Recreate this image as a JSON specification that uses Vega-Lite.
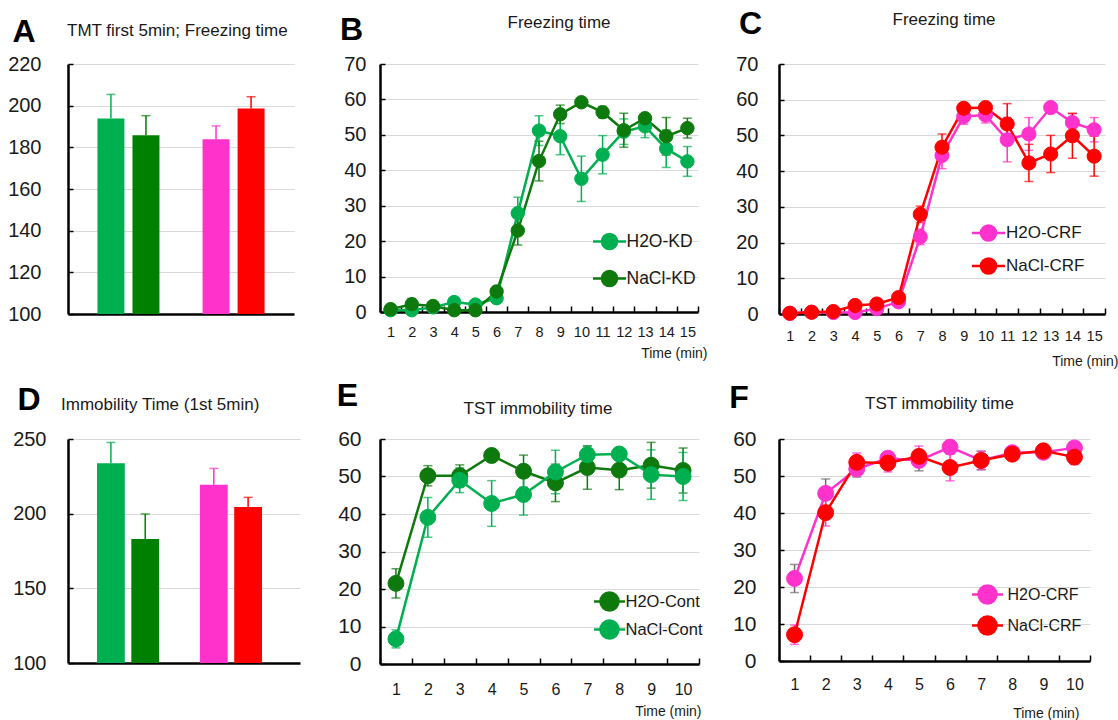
{
"$schema": "https://vega.github.io/schema/vega-lite/v6.json",
"background": "white",
"padding": {"left": 7, "top": 7, "right": 5, "bottom": 5},
"config": {
  "font": "Liberation Sans",
  "view": {"stroke": null},
  "title": {"font": "Liberation Sans", "fontSize": 17, "fontWeight": "normal", "color": "#1a1a1a"},
  "axis": {"labelFont": "Liberation Sans", "labelColor": "#1a1a1a", "domainColor": "#000000", "domainWidth": 2.5, "tickColor": "#000000", "tickWidth": 1.5, "gridColor": "#d9d9d9", "gridWidth": 1, "titleFont": "Liberation Sans", "titleColor": "#1a1a1a", "titleFontWeight": "normal"},
  "axisX": {"grid": false, "labelAngle": 0},
  "legend": {"labelFont": "Liberation Sans", "labelColor": "#1a1a1a"}
},
"datasets": {
  "A": [
    {"g": "H2O-KD", "v": 193.8, "u": 205.4},
    {"g": "NaCl-KD", "v": 185.8, "u": 195.2},
    {"g": "H2O-CRF", "v": 183.9, "u": 190.3},
    {"g": "NaCl-CRF", "v": 198.6, "u": 204.3}
  ],
  "D": [
    {"g": "H2O-KD", "v": 233.7, "u": 247.7},
    {"g": "NaCl-KD", "v": 183.0, "u": 199.8},
    {"g": "H2O-CRF", "v": 219.4, "u": 230.3},
    {"g": "NaCl-CRF", "v": 204.5, "u": 210.9}
  ],
  "B": [
    {"t": 1, "s": "H2O-KD", "m": 0.5, "e": 0.5},
    {"t": 2, "s": "H2O-KD", "m": 0.5, "e": 0.7},
    {"t": 3, "s": "H2O-KD", "m": 1.3, "e": 0.6},
    {"t": 4, "s": "H2O-KD", "m": 2.8, "e": 1.0},
    {"t": 5, "s": "H2O-KD", "m": 2.1, "e": 0.8},
    {"t": 6, "s": "H2O-KD", "m": 3.9, "e": 1.0},
    {"t": 7, "s": "H2O-KD", "m": 27.9, "e": 4.5},
    {"t": 8, "s": "H2O-KD", "m": 51.2, "e": 4.2},
    {"t": 9, "s": "H2O-KD", "m": 49.6, "e": 5.2},
    {"t": 10, "s": "H2O-KD", "m": 37.6, "e": 6.4},
    {"t": 11, "s": "H2O-KD", "m": 44.4, "e": 5.4},
    {"t": 12, "s": "H2O-KD", "m": 50.9, "e": 3.6},
    {"t": 13, "s": "H2O-KD", "m": 52.4, "e": 3.2},
    {"t": 14, "s": "H2O-KD", "m": 46.1, "e": 5.3},
    {"t": 15, "s": "H2O-KD", "m": 42.5, "e": 4.2},
    {"t": 1, "s": "NaCl-KD", "m": 0.8, "e": 0.4},
    {"t": 2, "s": "NaCl-KD", "m": 2.2, "e": 1.6},
    {"t": 3, "s": "NaCl-KD", "m": 1.7, "e": 0.6},
    {"t": 4, "s": "NaCl-KD", "m": 0.5, "e": 0.4},
    {"t": 5, "s": "NaCl-KD", "m": 0.5, "e": 0.4},
    {"t": 6, "s": "NaCl-KD", "m": 5.8, "e": 1.2},
    {"t": 7, "s": "NaCl-KD", "m": 23.0, "e": 4.1},
    {"t": 8, "s": "NaCl-KD", "m": 42.6, "e": 5.6},
    {"t": 9, "s": "NaCl-KD", "m": 55.8, "e": 2.6},
    {"t": 10, "s": "NaCl-KD", "m": 59.2, "e": 0.8},
    {"t": 11, "s": "NaCl-KD", "m": 56.4, "e": 1.6},
    {"t": 12, "s": "NaCl-KD", "m": 51.3, "e": 4.8},
    {"t": 13, "s": "NaCl-KD", "m": 54.7, "e": 1.2},
    {"t": 14, "s": "NaCl-KD", "m": 49.6, "e": 5.3},
    {"t": 15, "s": "NaCl-KD", "m": 51.9, "e": 2.8}
  ],
  "C": [
    {"t": 1, "s": "H2O-CRF", "m": 0.2, "e": 0.3},
    {"t": 2, "s": "H2O-CRF", "m": 0.5, "e": 0.3},
    {"t": 3, "s": "H2O-CRF", "m": 0.4, "e": 0.3},
    {"t": 4, "s": "H2O-CRF", "m": 0.4, "e": 0.4},
    {"t": 5, "s": "H2O-CRF", "m": 1.5, "e": 0.6},
    {"t": 6, "s": "H2O-CRF", "m": 3.4, "e": 0.8},
    {"t": 7, "s": "H2O-CRF", "m": 21.6, "e": 2.2},
    {"t": 8, "s": "H2O-CRF", "m": 44.4, "e": 3.7},
    {"t": 9, "s": "H2O-CRF", "m": 55.3, "e": 2.2},
    {"t": 10, "s": "H2O-CRF", "m": 55.7, "e": 2.2},
    {"t": 11, "s": "H2O-CRF", "m": 48.8, "e": 6.2},
    {"t": 12, "s": "H2O-CRF", "m": 50.4, "e": 4.6},
    {"t": 13, "s": "H2O-CRF", "m": 57.8, "e": 1.0},
    {"t": 14, "s": "H2O-CRF", "m": 53.6, "e": 2.5},
    {"t": 15, "s": "H2O-CRF", "m": 51.6, "e": 3.4},
    {"t": 1, "s": "NaCl-CRF", "m": 0.2, "e": 0.3},
    {"t": 2, "s": "NaCl-CRF", "m": 0.5, "e": 0.3},
    {"t": 3, "s": "NaCl-CRF", "m": 0.7, "e": 0.4},
    {"t": 4, "s": "NaCl-CRF", "m": 2.4, "e": 0.6},
    {"t": 5, "s": "NaCl-CRF", "m": 2.8, "e": 0.7},
    {"t": 6, "s": "NaCl-CRF", "m": 4.6, "e": 1.0},
    {"t": 7, "s": "NaCl-CRF", "m": 27.9, "e": 2.3},
    {"t": 8, "s": "NaCl-CRF", "m": 46.7, "e": 3.7},
    {"t": 9, "s": "NaCl-CRF", "m": 57.6, "e": 1.0},
    {"t": 10, "s": "NaCl-CRF", "m": 57.8, "e": 1.0},
    {"t": 11, "s": "NaCl-CRF", "m": 53.2, "e": 5.7},
    {"t": 12, "s": "NaCl-CRF", "m": 42.3, "e": 5.2},
    {"t": 13, "s": "NaCl-CRF", "m": 44.8, "e": 5.2},
    {"t": 14, "s": "NaCl-CRF", "m": 49.9, "e": 6.3},
    {"t": 15, "s": "NaCl-CRF", "m": 44.2, "e": 5.6}
  ],
  "E": [
    {"t": 1, "s": "H2O-Cont", "m": 21.5, "e": 3.9},
    {"t": 2, "s": "H2O-Cont", "m": 50.2, "e": 2.7},
    {"t": 3, "s": "H2O-Cont", "m": 50.2, "e": 2.9},
    {"t": 4, "s": "H2O-Cont", "m": 55.6, "e": 1.0},
    {"t": 5, "s": "H2O-Cont", "m": 51.4, "e": 4.3},
    {"t": 6, "s": "H2O-Cont", "m": 48.3, "e": 5.0},
    {"t": 7, "s": "H2O-Cont", "m": 52.4, "e": 5.8},
    {"t": 8, "s": "H2O-Cont", "m": 51.7, "e": 5.2},
    {"t": 9, "s": "H2O-Cont", "m": 53.0, "e": 6.1},
    {"t": 10, "s": "H2O-Cont", "m": 51.6, "e": 6.0},
    {"t": 1, "s": "NaCl-Cont", "m": 6.7, "e": 2.4},
    {"t": 2, "s": "NaCl-Cont", "m": 39.1, "e": 5.3},
    {"t": 3, "s": "NaCl-Cont", "m": 49.0, "e": 3.3},
    {"t": 4, "s": "NaCl-Cont", "m": 42.8, "e": 6.1},
    {"t": 5, "s": "NaCl-Cont", "m": 45.2, "e": 5.5},
    {"t": 6, "s": "NaCl-Cont", "m": 51.2, "e": 5.8},
    {"t": 7, "s": "NaCl-Cont", "m": 55.8, "e": 2.2},
    {"t": 8, "s": "NaCl-Cont", "m": 56.0, "e": 1.0},
    {"t": 9, "s": "NaCl-Cont", "m": 50.5, "e": 6.6},
    {"t": 10, "s": "NaCl-Cont", "m": 50.0, "e": 6.4}
  ],
  "F": [
    {"t": 1, "s": "H2O-CRF", "m": 22.3, "e": 3.8},
    {"t": 2, "s": "H2O-CRF", "m": 45.3, "e": 3.9},
    {"t": 3, "s": "H2O-CRF", "m": 51.9, "e": 2.2},
    {"t": 4, "s": "H2O-CRF", "m": 54.8, "e": 1.6},
    {"t": 5, "s": "H2O-CRF", "m": 54.2, "e": 2.8},
    {"t": 6, "s": "H2O-CRF", "m": 57.8, "e": 1.0},
    {"t": 7, "s": "H2O-CRF", "m": 54.2, "e": 2.5},
    {"t": 8, "s": "H2O-CRF", "m": 56.3, "e": 1.5},
    {"t": 9, "s": "H2O-CRF", "m": 56.4, "e": 1.0},
    {"t": 10, "s": "H2O-CRF", "m": 57.6, "e": 1.0},
    {"t": 1, "s": "NaCl-CRF", "m": 7.1, "e": 2.6},
    {"t": 2, "s": "NaCl-CRF", "m": 40.1, "e": 3.6},
    {"t": 3, "s": "NaCl-CRF", "m": 53.7, "e": 2.5},
    {"t": 4, "s": "NaCl-CRF", "m": 53.5, "e": 2.4},
    {"t": 5, "s": "NaCl-CRF", "m": 55.3, "e": 2.8},
    {"t": 6, "s": "NaCl-CRF", "m": 52.3, "e": 3.6},
    {"t": 7, "s": "NaCl-CRF", "m": 54.2, "e": 2.5},
    {"t": 8, "s": "NaCl-CRF", "m": 55.9, "e": 1.5},
    {"t": 9, "s": "NaCl-CRF", "m": 56.8, "e": 1.0},
    {"t": 10, "s": "NaCl-CRF", "m": 55.1, "e": 2.0}
  ]
},
"columns": 3,
"align": "none",
"bounds": "flush",
"spacing": {"row": 125, "column": 80},
"resolve": {
  "scale": {"color": "independent", "fill": "independent", "stroke": "independent"},
  "legend": {"color": "independent", "fill": "independent", "stroke": "independent"}
},
"concat": [
  {
    "width": 226, "height": 250,
    "data": {"name": "A"},
    "title": {"text": "TMT first 5min; Freezing time", "anchor": "start", "frame": "group", "dx": -1, "offset": -38, "baseline": "alphabetic"},
    "encoding": {
      "x": {"field": "g", "type": "nominal", "scale": {"domain": ["H2O-KD", "NaCl-KD", "gap", "H2O-CRF", "NaCl-CRF"], "paddingInner": 0.23, "paddingOuter": 0.84}, "axis": {"title": null, "labels": false, "ticks": false}},
      "color": {"field": "g", "type": "nominal", "scale": {"domain": ["H2O-KD", "NaCl-KD", "H2O-CRF", "NaCl-CRF"], "range": ["#00B050", "#008000", "#FF33CC", "#FF0000"]}, "legend": null}
    },
    "layer": [
      {"mark": {"type": "rule", "strokeWidth": 1.5},
       "encoding": {
         "y": {"field": "v", "type": "quantitative", "scale": {"domain": [100, 220], "nice": false, "zero": false},
               "axis": {"values": [100, 120, 140, 160, 180, 200, 220], "grid": true, "labelFontSize": 20, "labelPadding": 32, "tickSize": -5,
                        "title": "A", "titleAngle": 0, "titleX": -44.5, "titleY": -23, "titleAlign": "center", "titleBaseline": "alphabetic", "titleFontSize": 32, "titleFontWeight": "bold", "titleColor": "#000000"}},
         "y2": {"field": "u"}}},
      {"mark": {"type": "tick", "size": 9, "thickness": 1.5},
       "encoding": {"y": {"field": "u", "type": "quantitative"}}},
      {"mark": {"type": "bar"},
       "encoding": {"y": {"field": "v", "type": "quantitative"}, "y2": {"datum": 100}}}
    ]
  },
  {
    "width": 318, "height": 248,
    "data": {"name": "B"},
    "title": {"text": "Freezing time", "anchor": "middle", "frame": "group", "dx": 20, "offset": -32, "baseline": "alphabetic"},
    "resolve": {"scale": {"color": "independent"}},
    "encoding": {
      "x": {"field": "t", "type": "ordinal", "scale": {"type": "band", "domain": [1, 2, 3, 4, 5, 6, 7, 8, 9, 10, 11, 12, 13, 14, 15], "paddingInner": 0, "paddingOuter": 0},
            "axis": {"title": "Time (min)", "titleX": 327, "titleY": 45, "titleAlign": "right", "titleBaseline": "alphabetic", "titleFontSize": 14, "labelFontSize": 14.5, "labelPadding": 19, "tickSize": -6, "tickBand": "extent"}},
      "y": {"field": "m", "type": "quantitative", "scale": {"domain": [0, 70], "nice": false},
            "axis": {"values": [0, 10, 20, 30, 40, 50, 60, 70], "grid": true, "labelFontSize": 20, "labelPadding": 19, "tickSize": -5,
                     "title": "B", "titleAngle": 0, "titleX": -29, "titleY": -25, "titleAlign": "center", "titleBaseline": "alphabetic", "titleFontSize": 32, "titleFontWeight": "bold", "titleColor": "#000000"}}
    },
    "layer": [
      {"mark": {"type": "errorbar", "ticks": true, "size": 9, "thickness": 1.5},
       "encoding": {"yError": {"field": "e"}, "color": {"field": "s", "type": "nominal", "scale": {"domain": ["H2O-KD", "NaCl-KD"], "range": ["#00B050", "#0E7A0E"]}, "legend": null}}},
      {"mark": {"type": "line", "strokeWidth": 2.5},
       "encoding": {"color": {"field": "s", "type": "nominal", "scale": {"domain": ["H2O-KD", "NaCl-KD"], "range": ["#00B050", "#0E7A0E"]}, "legend": null}}},
      {"mark": {"type": "point", "filled": true, "size": 180, "opacity": 1, "strokeWidth": 1},
       "encoding": {
         "fill": {"field": "s", "type": "nominal", "scale": {"domain": ["H2O-KD", "NaCl-KD"], "range": ["#00B050", "#0E7A0E"]},
                  "legend": {"orient": "none", "legendX": 220, "legendY": 168, "title": null, "symbolType": "M -2.06 0 L 2.06 0 M 0.94 0 A 0.94 0.94 0 1 1 -0.94 0 A 0.94 0.94 0 1 1 0.94 0 Z", "symbolSize": 256, "symbolStrokeWidth": 2.5, "labelFontSize": 17.5, "labelOffset": 7.5, "rowPadding": 10, "padding": 0}},
         "stroke": {"field": "s", "type": "nominal", "scale": {"domain": ["H2O-KD", "NaCl-KD"], "range": ["#00B050", "#0E7A0E"]},
                  "legend": {"orient": "none", "legendX": 220, "legendY": 168, "title": null, "symbolType": "M -2.06 0 L 2.06 0 M 0.94 0 A 0.94 0.94 0 1 1 -0.94 0 A 0.94 0.94 0 1 1 0.94 0 Z", "symbolSize": 256, "symbolStrokeWidth": 2.5, "labelFontSize": 17.5, "labelOffset": 7.5, "rowPadding": 10, "padding": 0}}
       }}
    ]
  },
  {
    "width": 326, "height": 250,
    "data": {"name": "C"},
    "title": {"text": "Freezing time", "anchor": "middle", "frame": "group", "dx": 2, "offset": -35, "baseline": "alphabetic"},
    "resolve": {"scale": {"color": "independent"}},
    "encoding": {
      "x": {"field": "t", "type": "ordinal", "scale": {"type": "band", "domain": [1, 2, 3, 4, 5, 6, 7, 8, 9, 10, 11, 12, 13, 14, 15], "paddingInner": 0, "paddingOuter": 0},
            "axis": {"title": "Time (min)", "titleX": 339, "titleY": 51, "titleAlign": "right", "titleBaseline": "alphabetic", "titleFontSize": 14, "labelFontSize": 14.5, "labelPadding": 21, "tickSize": -6, "tickBand": "extent"}},
      "y": {"field": "m", "type": "quantitative", "scale": {"domain": [0, 70], "nice": false},
            "axis": {"values": [0, 10, 20, 30, 40, 50, 60, 70], "grid": true, "labelFontSize": 20, "labelPadding": 26, "tickSize": -5,
                     "title": "C", "titleAngle": 0, "titleX": -29, "titleY": -31, "titleAlign": "center", "titleBaseline": "alphabetic", "titleFontSize": 32, "titleFontWeight": "bold", "titleColor": "#000000"}}
    },
    "layer": [
      {"mark": {"type": "errorbar", "ticks": true, "size": 9, "thickness": 1.5},
       "encoding": {"yError": {"field": "e"}, "color": {"field": "s", "type": "nominal", "scale": {"domain": ["H2O-CRF", "NaCl-CRF"], "range": ["#FF33CC", "#FF0000"]}, "legend": null}}},
      {"mark": {"type": "line", "strokeWidth": 2.5},
       "encoding": {"color": {"field": "s", "type": "nominal", "scale": {"domain": ["H2O-CRF", "NaCl-CRF"], "range": ["#FF33CC", "#FF0000"]}, "legend": null}}},
      {"mark": {"type": "point", "filled": true, "size": 200, "opacity": 1, "strokeWidth": 1},
       "encoding": {
         "fill": {"field": "s", "type": "nominal", "scale": {"domain": ["H2O-CRF", "NaCl-CRF"], "range": ["#FF33CC", "#FF0000"]},
                  "legend": {"orient": "none", "legendX": 200, "legendY": 159.5, "title": null, "symbolType": "M -2.06 0 L 2.06 0 M 0.94 0 A 0.94 0.94 0 1 1 -0.94 0 A 0.94 0.94 0 1 1 0.94 0 Z", "symbolSize": 256, "symbolStrokeWidth": 2.5, "labelFontSize": 17, "labelOffset": 8, "rowPadding": 6, "padding": 0}},
         "stroke": {"field": "s", "type": "nominal", "scale": {"domain": ["H2O-CRF", "NaCl-CRF"], "range": ["#FF33CC", "#FF0000"]},
                  "legend": {"orient": "none", "legendX": 200, "legendY": 159.5, "title": null, "symbolType": "M -2.06 0 L 2.06 0 M 0.94 0 A 0.94 0.94 0 1 1 -0.94 0 A 0.94 0.94 0 1 1 0.94 0 Z", "symbolSize": 256, "symbolStrokeWidth": 2.5, "labelFontSize": 17, "labelOffset": 8, "rowPadding": 6, "padding": 0}}
       }}
    ]
  },
  {
    "width": 232, "height": 224,
    "data": {"name": "D"},
    "title": {"text": "Immobility Time (1st 5min)", "anchor": "start", "frame": "group", "dx": -7, "offset": -44, "baseline": "alphabetic"},
    "encoding": {
      "x": {"field": "g", "type": "nominal", "scale": {"domain": ["H2O-KD", "NaCl-KD", "gap", "H2O-CRF", "NaCl-CRF"], "paddingInner": 0.19, "paddingOuter": 0.977, "align": 0.433}, "axis": {"title": null, "labels": false, "ticks": false}},
      "color": {"field": "g", "type": "nominal", "scale": {"domain": ["H2O-KD", "NaCl-KD", "H2O-CRF", "NaCl-CRF"], "range": ["#00B050", "#008000", "#FF33CC", "#FF0000"]}, "legend": null}
    },
    "layer": [
      {"mark": {"type": "rule", "strokeWidth": 1.5},
       "encoding": {
         "y": {"field": "v", "type": "quantitative", "scale": {"domain": [100, 250], "nice": false, "zero": false},
               "axis": {"values": [100, 150, 200, 250], "grid": true, "labelFontSize": 20, "labelPadding": 27, "tickSize": -5,
                        "title": "D", "titleAngle": 0, "titleX": -39.5, "titleY": -30, "titleAlign": "center", "titleBaseline": "alphabetic", "titleFontSize": 32, "titleFontWeight": "bold", "titleColor": "#000000"}},
         "y2": {"field": "u"}}},
      {"mark": {"type": "tick", "size": 9, "thickness": 1.5},
       "encoding": {"y": {"field": "u", "type": "quantitative"}}},
      {"mark": {"type": "bar"},
       "encoding": {"y": {"field": "v", "type": "quantitative"}, "y2": {"datum": 100}}}
    ]
  },
  {
    "width": 319, "height": 225,
    "data": {"name": "E"},
    "title": {"text": "TST immobility time", "anchor": "middle", "frame": "group", "dx": -1.5, "offset": -52, "baseline": "alphabetic"},
    "resolve": {"scale": {"color": "independent"}},
    "encoding": {
      "x": {"field": "t", "type": "ordinal", "scale": {"type": "band", "domain": [1, 2, 3, 4, 5, 6, 7, 8, 9, 10], "paddingInner": 0, "paddingOuter": 0},
            "axis": {"title": "Time (min)", "titleX": 321, "titleY": 51, "titleAlign": "right", "titleBaseline": "alphabetic", "titleFontSize": 14, "labelFontSize": 16, "labelPadding": 23, "tickSize": -6, "tickBand": "extent"}},
      "y": {"field": "m", "type": "quantitative", "scale": {"domain": [0, 60], "nice": false},
            "axis": {"values": [0, 10, 20, 30, 40, 50, 60], "grid": true, "labelFontSize": 21, "labelPadding": 24, "tickSize": -5,
                     "title": "E", "titleAngle": 0, "titleX": -33, "titleY": -34, "titleAlign": "center", "titleBaseline": "alphabetic", "titleFontSize": 32, "titleFontWeight": "bold", "titleColor": "#000000"}}
    },
    "layer": [
      {"mark": {"type": "errorbar", "ticks": true, "size": 9, "thickness": 1.5},
       "encoding": {"yError": {"field": "e"}, "color": {"field": "s", "type": "nominal", "scale": {"domain": ["H2O-Cont", "NaCl-Cont"], "range": ["#0E7A0E", "#00B050"]}, "legend": null}}},
      {"mark": {"type": "line", "strokeWidth": 2.5},
       "encoding": {"color": {"field": "s", "type": "nominal", "scale": {"domain": ["H2O-Cont", "NaCl-Cont"], "range": ["#0E7A0E", "#00B050"]}, "legend": null}}},
      {"mark": {"type": "point", "filled": true, "size": 254, "opacity": 1, "strokeWidth": 1},
       "encoding": {
         "fill": {"field": "s", "type": "nominal", "scale": {"domain": ["H2O-Cont", "NaCl-Cont"], "range": ["#0E7A0E", "#00B050"]},
                  "legend": {"orient": "none", "legendX": 218.5, "legendY": 151.5, "title": null, "symbolType": "M -1.63 0 L 1.63 0 M 0.95 0 A 0.95 0.95 0 1 1 -0.95 0 A 0.95 0.95 0 1 1 0.95 0 Z", "symbolSize": 361, "symbolStrokeWidth": 2.5, "labelFontSize": 16.5, "labelOffset": 5, "rowPadding": -2, "padding": 0}},
         "stroke": {"field": "s", "type": "nominal", "scale": {"domain": ["H2O-Cont", "NaCl-Cont"], "range": ["#0E7A0E", "#00B050"]},
                  "legend": {"orient": "none", "legendX": 218.5, "legendY": 151.5, "title": null, "symbolType": "M -1.63 0 L 1.63 0 M 0.95 0 A 0.95 0.95 0 1 1 -0.95 0 A 0.95 0.95 0 1 1 0.95 0 Z", "symbolSize": 361, "symbolStrokeWidth": 2.5, "labelFontSize": 16.5, "labelOffset": 5, "rowPadding": -2, "padding": 0}}
       }}
    ]
  },
  {
    "width": 311, "height": 222,
    "data": {"name": "F"},
    "title": {"text": "TST immobility time", "anchor": "middle", "frame": "group", "dx": 5, "offset": -45, "baseline": "alphabetic"},
    "resolve": {"scale": {"color": "independent"}},
    "encoding": {
      "x": {"field": "t", "type": "ordinal", "scale": {"type": "band", "domain": [1, 2, 3, 4, 5, 6, 7, 8, 9, 10], "paddingInner": 0, "paddingOuter": 0},
            "axis": {"title": "Time (min)", "titleX": 300, "titleY": 56, "titleAlign": "right", "titleBaseline": "alphabetic", "titleFontSize": 14, "labelFontSize": 16, "labelPadding": 21, "tickSize": -6, "tickBand": "extent"}},
      "y": {"field": "m", "type": "quantitative", "scale": {"domain": [0, 60], "nice": false},
            "axis": {"values": [0, 10, 20, 30, 40, 50, 60], "grid": true, "labelFontSize": 21, "labelPadding": 28, "tickSize": -5,
                     "title": "F", "titleAngle": 0, "titleX": -40.5, "titleY": -32, "titleAlign": "center", "titleBaseline": "alphabetic", "titleFontSize": 32, "titleFontWeight": "bold", "titleColor": "#000000"}}
    },
    "layer": [
      {"mark": {"type": "errorbar", "ticks": true, "size": 9, "thickness": 1.5},
       "encoding": {"yError": {"field": "e"}, "color": {"field": "s", "type": "nominal", "scale": {"domain": ["H2O-CRF", "NaCl-CRF"], "range": ["#6E6E6E", "#FF33CC"]}, "legend": null}}},
      {"mark": {"type": "line", "strokeWidth": 2.5},
       "encoding": {"color": {"field": "s", "type": "nominal", "scale": {"domain": ["H2O-CRF", "NaCl-CRF"], "range": ["#FF33CC", "#FF0000"]}, "legend": null}}},
      {"mark": {"type": "point", "filled": true, "size": 254, "opacity": 1, "strokeWidth": 1},
       "encoding": {
         "fill": {"field": "s", "type": "nominal", "scale": {"domain": ["H2O-CRF", "NaCl-CRF"], "range": ["#FF33CC", "#FF0000"]},
                  "legend": {"orient": "none", "legendX": 197.5, "legendY": 144.5, "title": null, "symbolType": "M -1.63 0 L 1.63 0 M 0.95 0 A 0.95 0.95 0 1 1 -0.95 0 A 0.95 0.95 0 1 1 0.95 0 Z", "symbolSize": 361, "symbolStrokeWidth": 2.5, "labelFontSize": 16, "labelOffset": 9, "rowPadding": 1, "padding": 0}},
         "stroke": {"field": "s", "type": "nominal", "scale": {"domain": ["H2O-CRF", "NaCl-CRF"], "range": ["#FF33CC", "#FF0000"]},
                  "legend": {"orient": "none", "legendX": 197.5, "legendY": 144.5, "title": null, "symbolType": "M -1.63 0 L 1.63 0 M 0.95 0 A 0.95 0.95 0 1 1 -0.95 0 A 0.95 0.95 0 1 1 0.95 0 Z", "symbolSize": 361, "symbolStrokeWidth": 2.5, "labelFontSize": 16, "labelOffset": 9, "rowPadding": 1, "padding": 0}}
       }}
    ]
  }
]
}
